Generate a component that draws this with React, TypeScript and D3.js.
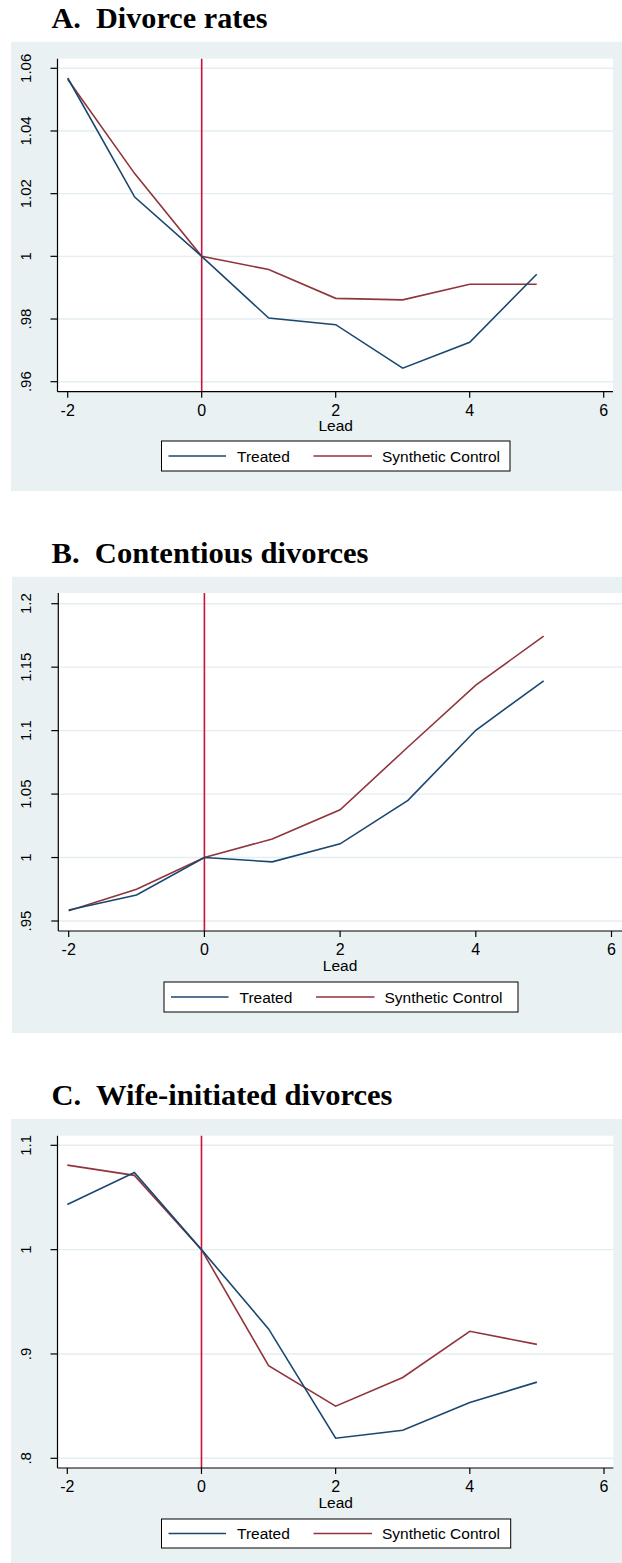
import React from "react";
import * as d3 from "d3";

// Event-time leads (years relative to the reform)
const leads = [-2, -1, 0, 1, 2, 3, 4, 5];
const xTicks = [-2, 0, 2, 4, 6];
const reformLead = 0;

// A. Divorce rates (normalised to lead 0)
const treatedA = [1.0569, 1.0189, 1.0, 0.9803, 0.9782, 0.9643, 0.9726, 0.9943];
const synthA = [1.0565, 1.0264, 1.0, 0.9958, 0.9866, 0.9861, 0.9911, 0.9911];
const yTicksA = [0.96, 0.98, 1, 1.02, 1.04, 1.06];

// B. Contentious divorces
const treatedB = [0.9587, 0.9705, 1.0, 0.9966, 1.0108, 1.045, 1.1003, 1.1392];
const synthB = [0.958, 0.975, 1.0, 1.0146, 1.0376, 1.0871, 1.1358, 1.1745];
const yTicksB = [0.95, 1, 1.05, 1.1, 1.15, 1.2];

// C. Wife-initiated divorces
const treatedC = [1.0433, 1.074, 1.0, 0.924, 0.8192, 0.8269, 0.8535, 0.873];
const synthC = [1.081, 1.0712, 1.0, 0.8888, 0.85, 0.8775, 0.9217, 0.9092];
const yTicksC = [0.8, 0.9, 1, 1.1];

const seriesNames = ["Treated", "Synthetic Control"];
const xTitle = "Lead";

const COLORS = {
  bg: "#eaf1f3",
  grid: "#e4eef1",
  treated: "#1a476f",
  synth: "#90353b",
  reform: "#cc1237",
  axis: "#000",
};

const SANS = "'Liberation Sans', Arial, Helvetica, sans-serif";
const SERIF = "'Liberation Serif', 'Times New Roman', serif";

// Stata-style number labels: ".95" rather than "0.95", plain hyphen for negatives
const fmtTick = (v: number) => {
  const s = d3.format("~g")(v);
  return s.replace(/^0\./, ".").replace("\u2212", "-");
};

type Layout = {
  titleY: number;
  titleWidth: number;
  bgLeft: number;
  bgTop: number;
  bgBottom: number;
  plotTop: number;
  axisY: number;
  yAxisX: number;
  plotRight: number;
  xRange: [number, number];
  yRange: [number, number];
  legend: { x0: number; x1: number; y0: number; y1: number };
  yLabelX: number;
};

type PanelProps = {
  title: string;
  treated: number[];
  synth: number[];
  yTicks: number[];
  layout: Layout;
};

function Panel({ title, treated, synth, yTicks, layout: L }: PanelProps) {
  const x = d3.scaleLinear().domain([-2, 6]).range(L.xRange);
  const y = d3
    .scaleLinear()
    .domain([yTicks[0], yTicks[yTicks.length - 1]])
    .range(L.yRange);

  const line = d3
    .line<number>()
    .x((_, i) => x(leads[i]))
    .y((d) => y(d));

  const lg = L.legend;
  const lgMid = (lg.y0 + lg.y1) / 2;
  const lgW = lg.x1 - lg.x0;

  return (
    <g>
      <text
        x={51.5}
        y={L.titleY}
        fontFamily={SERIF}
        fontWeight="bold"
        fontSize={29.5}
        fill="#000"
        textLength={L.titleWidth}
        lengthAdjust="spacingAndGlyphs"
        style={{ whiteSpace: "pre" }}
      >
        {title}
      </text>
      <rect
        x={L.bgLeft}
        y={L.bgTop}
        width={622 - L.bgLeft}
        height={L.bgBottom - L.bgTop}
        fill={COLORS.bg}
      />
      <rect
        x={L.yAxisX}
        y={L.plotTop}
        width={L.plotRight - L.yAxisX}
        height={L.axisY - L.plotTop}
        fill="#fff"
      />
      {/* horizontal gridlines */}
      {yTicks.map((t) => (
        <line
          key={"g" + t}
          x1={L.yAxisX}
          x2={L.plotRight}
          y1={y(t)}
          y2={y(t)}
          stroke={COLORS.grid}
          strokeWidth={1.4}
        />
      ))}
      {/* reform marker */}
      <line
        x1={x(reformLead)}
        x2={x(reformLead)}
        y1={L.plotTop}
        y2={L.axisY}
        stroke={COLORS.reform}
        strokeWidth={1.6}
      />
      <path d={line(synth) || ""} fill="none" stroke={COLORS.synth} strokeWidth={1.6} />
      <path d={line(treated) || ""} fill="none" stroke={COLORS.treated} strokeWidth={1.6} />
      {/* axes */}
      <line x1={L.yAxisX} x2={L.yAxisX} y1={L.plotTop} y2={L.axisY} stroke={COLORS.axis} strokeWidth={1.2} />
      <line x1={L.yAxisX} x2={L.plotRight} y1={L.axisY} y2={L.axisY} stroke={COLORS.axis} strokeWidth={1.2} />
      {yTicks.map((t) => (
        <g key={"y" + t}>
          <line x1={L.yAxisX - 7} x2={L.yAxisX} y1={y(t)} y2={y(t)} stroke={COLORS.axis} strokeWidth={1.2} />
          <text
            transform={`translate(${L.yLabelX},${y(t)}) rotate(-90)`}
            textAnchor="middle"
            fontFamily={SANS}
            fontSize={15}
            fill="#000"
          >
            {fmtTick(t)}
          </text>
        </g>
      ))}
      {xTicks.map((t) => (
        <g key={"x" + t}>
          <line x1={x(t)} x2={x(t)} y1={L.axisY} y2={L.axisY + 6} stroke={COLORS.axis} strokeWidth={1.2} />
          <text
            x={x(t)}
            y={L.axisY + 24}
            textAnchor="middle"
            fontFamily={SANS}
            fontSize={16}
            fill="#000"
          >
            {fmtTick(t)}
          </text>
        </g>
      ))}
      <text
        x={x(2)}
        y={L.axisY + 39.5}
        textAnchor="middle"
        fontFamily={SANS}
        fontSize={15.5}
        fill="#000"
      >
        {xTitle}
      </text>
      {/* legend */}
      <rect
        x={lg.x0}
        y={lg.y0}
        width={lgW}
        height={lg.y1 - lg.y0}
        fill="#fff"
        stroke="#000"
        strokeWidth={1}
      />
      <line
        x1={lg.x0 + 7}
        x2={lg.x0 + 64.5}
        y1={lgMid}
        y2={lgMid}
        stroke={COLORS.treated}
        strokeWidth={1.6}
      />
      <text x={lg.x0 + 75.5} y={lgMid + 5.5} fontFamily={SANS} fontSize={15.5} fill="#000">
        {seriesNames[0]}
      </text>
      <line
        x1={lg.x0 + 152}
        x2={lg.x0 + 210.5}
        y1={lgMid}
        y2={lgMid}
        stroke={COLORS.synth}
        strokeWidth={1.6}
      />
      <text x={lg.x0 + 220.5} y={lgMid + 5.5} fontFamily={SANS} fontSize={15.5} fill="#000">
        {seriesNames[1]}
      </text>
    </g>
  );
}

const layoutA: Layout = {
  titleY: 28.3,
  titleWidth: 216,
  bgLeft: 11,
  bgTop: 41.7,
  bgBottom: 491,
  plotTop: 58.7,
  axisY: 391.7,
  yAxisX: 57.5,
  plotRight: 613,
  xRange: [67.7, 603.7],
  yRange: [381.7, 68.3],
  legend: { x0: 161.5, x1: 510, y0: 441, y1: 471 },
  yLabelX: 30.5,
};

const layoutB: Layout = {
  titleY: 563.3,
  titleWidth: 317,
  bgLeft: 12,
  bgTop: 576.7,
  bgBottom: 1033,
  plotTop: 593,
  axisY: 931,
  yAxisX: 58.3,
  plotRight: 622,
  xRange: [68.7, 611.5],
  yRange: [921, 603.7],
  legend: { x0: 164, x1: 518, y0: 982, y1: 1012 },
  yLabelX: 31,
};

const layoutC: Layout = {
  titleY: 1105,
  titleWidth: 341,
  bgLeft: 11,
  bgTop: 1119,
  bgBottom: 1563,
  plotTop: 1135.7,
  axisY: 1468,
  yAxisX: 57.5,
  plotRight: 613.3,
  xRange: [67.3, 604],
  yRange: [1458.3, 1145.3],
  legend: { x0: 161.5, x1: 510.7, y0: 1519, y1: 1548 },
  yLabelX: 30.5,
};

export default function App() {
  return (
    <svg
      width={622}
      height={1563}
      viewBox="0 0 622 1563"
      style={{ position: "absolute", left: 0, top: 0, background: "#fff" }}
    >
      <rect x={0} y={0} width={622} height={1563} fill="#fff" />
      <Panel title="A.  Divorce rates" treated={treatedA} synth={synthA} yTicks={yTicksA} layout={layoutA} />
      <Panel title="B.  Contentious divorces" treated={treatedB} synth={synthB} yTicks={yTicksB} layout={layoutB} />
      <Panel title="C.  Wife-initiated divorces" treated={treatedC} synth={synthC} yTicks={yTicksC} layout={layoutC} />
    </svg>
  );
}
